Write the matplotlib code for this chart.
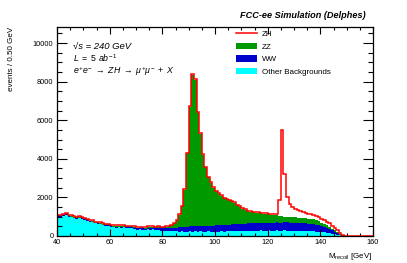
import numpy as np
import matplotlib
matplotlib.use("Agg")
import matplotlib.pyplot as plt
from matplotlib.patches import Patch
from matplotlib.lines import Line2D

plt.rcParams['font.family'] = ['Liberation Sans', 'DejaVu Sans']
plt.rcParams['mathtext.fontset'] = 'custom'
plt.rcParams['mathtext.rm'] = 'Liberation Sans'
plt.rcParams['mathtext.it'] = 'Liberation Sans:italic'
plt.rcParams['mathtext.bf'] = 'Liberation Sans:bold'

# ---- data: 1 GeV bins from 40 to 160 GeV (events / 0.50 GeV) ----
edges = np.arange(40, 161, 1)

other = [1000, 990, 1060, 1100, 1010, 960, 930, 890, 930, 900,
         840, 790, 730, 700, 650, 630, 600, 560, 530, 520,
         470, 460, 440, 450, 430, 450, 420, 400, 415, 370,
         330, 340, 330, 300, 350, 330, 340, 290, 310, 280,
         270, 260, 260, 250, 240, 240, 230, 240, 230, 220,
         240, 230, 250, 230, 240, 220, 230, 240, 220, 230,
         230, 220, 240, 230, 250, 240, 260, 250, 270, 260,
         270, 260, 280, 270, 260, 280, 270, 290, 280, 270,
         290, 280, 270, 290, 280, 270, 290, 280, 270, 280,
         270, 280, 260, 270, 260, 250, 260, 240, 230, 220,
         200, 190, 170, 150, 120, 90, 60, 30, 10, 0,
         0, 0, 0, 0, 0, 0, 0, 0, 0, 0]

ww = [25, 25, 25, 25, 25, 25, 25, 25, 25, 25,
      25, 25, 25, 25, 25, 30, 30, 30, 30, 30,
      30, 30, 35, 35, 40, 40, 45, 45, 50, 55,
      60, 65, 70, 75, 80, 85, 90, 100, 105, 110,
      120, 130, 140, 160, 180, 200, 220, 240, 260, 270,
      280, 290, 280, 300, 290, 300, 310, 300, 320, 310,
      320, 330, 320, 340, 330, 350, 340, 360, 350, 370,
      360, 380, 370, 380, 390, 380, 400, 390, 400, 410,
      400, 410, 400, 420, 410, 400, 410, 420, 400, 410,
      400, 410, 400, 390, 400, 380, 370, 360, 350, 330,
      310, 290, 260, 220, 180, 130, 80, 40, 15, 0,
      0, 0, 0, 0, 0, 0, 0, 0, 0, 0]

zz = [45, 50, 45, 50, 45, 50, 45, 50, 45, 50,
      45, 50, 45, 50, 45, 50, 45, 50, 45, 50,
      45, 50, 45, 50, 45, 50, 45, 50, 45, 50,
      45, 50, 45, 50, 45, 50, 50, 55, 55, 60,
      70, 90, 110, 150, 230, 380, 650, 1070, 1910, 3810,
      6180, 7830, 7570, 5870, 4770, 3680, 3010, 2510, 2210, 1960,
      1770, 1630, 1520, 1390, 1320, 1250, 1200, 1110, 980, 870,
      790, 710, 640, 610, 580, 550, 520, 490, 480, 460,
      430, 420, 420, 360, 360, 360, 310, 300, 320, 285,
      295, 265, 285, 270, 250, 265, 250, 260, 240, 210,
      170, 140, 130, 110, 80, 70, 60, 40, 15, 0,
      0, 0, 0, 0, 0, 0, 0, 0, 0, 0]

zh = [30, 30, 30, 30, 30, 30, 30, 30, 30, 30,
      30, 30, 30, 30, 30, 30, 30, 30, 30, 30,
      30, 30, 30, 30, 30, 30, 30, 30, 30, 30,
      30, 30, 30, 30, 30, 30, 30, 30, 30, 30,
      25, 25, 25, 25, 25, 25, 25, 25, 25, 25,
      25, 25, 25, 25, 25, 25, 25, 25, 25, 25,
      25, 25, 25, 25, 25, 25, 25, 30, 30, 30,
      30, 30, 30, 30, 30, 30, 30, 35, 35, 35,
      40, 40, 45, 50, 800, 4480, 2200, 1000, 680, 520,
      430, 380, 340, 310, 290, 270, 250, 230, 220, 210,
      200, 190, 180, 170, 150, 130, 90, 60, 30, 0,
      0, 0, 0, 0, 0, 0, 0, 0, 0, 0]

labels = ["ZH", "ZZ", "WW", "Other Backgrounds"]
colors = {"ZH": "#ff0000", "ZZ": "#009900", "WW": "#0000cc", "Other": "#00ffff"}

other = np.array(other, float)
ww = np.array(ww, float)
zz = np.array(zz, float)
zh = np.array(zh, float)
c1 = other
c2 = c1 + ww
c3 = c2 + zz
c4 = c3 + zh

fig = plt.figure(figsize=(4.07, 2.63), dpi=100)
ax = fig.add_axes([57/407, 1-236/263, (373-57)/407, (236-27)/263])

ax.stairs(c1, edges, baseline=0, fill=True, color=colors["Other"], lw=0)
ax.stairs(c2, edges, baseline=c1, fill=True, color=colors["WW"], lw=0)
ax.stairs(c3, edges, baseline=c2, fill=True, color=colors["ZZ"], lw=0)
ax.stairs(c4, edges, baseline=None, color=colors["ZH"], lw=1.1, clip_on=False, zorder=3)

ax.set_xlim(40, 160)
ax.set_ylim(0, 10830)
ax.set_xticks(np.arange(40, 161, 20))
ax.set_xticks(np.arange(40, 161, 5), minor=True)
ax.set_yticks(np.arange(0, 10001, 2000))
ax.set_yticks(np.arange(0, 10801, 500), minor=True)
ax.tick_params(axis='both', which='both', direction='in', top=True, right=True,
               labelsize=5.3, width=0.8, colors='black')
ax.tick_params(axis='y', which='major', length=7, pad=2.5)
ax.tick_params(axis='y', which='minor', length=3.5)
ax.tick_params(axis='x', which='major', length=5, pad=2)
ax.tick_params(axis='x', which='minor', length=2.5)
for s in ax.spines.values():
    s.set_linewidth(0.9)
    s.set_zorder(5)

fig.text(12/407, 1-27/263, "events / 0.50 GeV", rotation=90, ha='center', va='top', fontsize=5.8)
fig.text(373/407, 1-257/263, r"M$_{\mathrm{recoil}}$ [GeV]", ha='right', va='center', fontsize=5.8)
fig.text(366/407, 1-16/263, "FCC-ee Simulation (Delphes)", ha='right', va='center',
         fontsize=6.6, fontweight='bold', style='italic')

ax.text(73/407, 1-46/263, "√s = 240 GeV", transform=fig.transFigure, ha='left', va='center',
        fontsize=6.8, style='italic')
ax.text(73/407, 1-58/263, r"$L\ =\ 5\ ab^{-1}$", transform=fig.transFigure, ha='left', va='center',
        fontsize=6.3)
ax.text(73/407, 1-71/263, r"$e^{+}e^{-}\ \rightarrow\ ZH\ \rightarrow\ \mu^{+}\mu^{-}\ +\ X$",
        transform=fig.transFigure, ha='left', va='center', fontsize=6.3)

handles = [Line2D([], [], color=colors["ZH"], lw=1.1),
           Patch(facecolor=colors["ZZ"], edgecolor='none'),
           Patch(facecolor=colors["WW"], edgecolor='none'),
           Patch(facecolor=colors["Other"], edgecolor='none')]
leg = ax.legend(handles, labels, loc='upper left', bbox_to_anchor=(236/407, 1-30/263),
                bbox_transform=fig.transFigure, frameon=False, fontsize=5.8,
                handlelength=2.6, handleheight=0.9, handletextpad=0.6, labelspacing=0.55,
                borderpad=0, borderaxespad=0)

fig.savefig("out.png", dpi=100)
